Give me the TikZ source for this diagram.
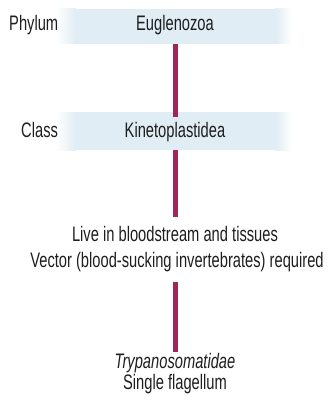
\documentclass[tikz,border=0pt]{standalone}
\usepackage{fontspec}
\setmainfont{Liberation Sans}[FakeStretch=0.70]
\definecolor{bandblue}{RGB}{224,237,244}
\definecolor{barred}{RGB}{158,38,88}
\definecolor{txt}{RGB}{30,30,30}
\tikzset{
  lbl/.style={inner sep=0pt, font=\fontsize{21}{24}\selectfont, text=txt, anchor=base},
  bar/.style={draw=barred, line width=5pt},
  band/.style={fill=bandblue, draw=none}
}
\begin{document}
\begin{tikzpicture}[x=1pt,y=-1pt]
\useasboundingbox (0,0) rectangle (328,412);
% bands
\shade[left color=white, right color=bandblue] (56,9) rectangle (76,44);
\fill[band] (75,9) rectangle (276,44);
\shade[left color=bandblue, right color=white] (275,9) rectangle (292,44);
\shade[left color=white, right color=bandblue] (56,112) rectangle (76,150);
\fill[band] (75,112) rectangle (276,150);
\shade[left color=bandblue, right color=white] (275,112) rectangle (292,150);
% texts
\node[lbl, anchor=base west] (phy) at (9,31) {Phylum};
\node[lbl] (eug) at (175,31) {Euglenozoa};
\node[lbl, anchor=base west] (cls) at (21,137) {Class};
\node[lbl] (kin) at (175,137) {Kinetoplastidea};
\node[lbl] (live) at (175,241) {Live in bloodstream and tissues};
\node[lbl] (vec) at (177,267) {Vector (blood-sucking invertebrates) required};
\node[lbl] (try) at (175,368) {\itshape Trypanosomatidae};
\node[lbl] (sfl) at (175,389) {Single flagellum};
% bars
\coordinate (b1a) at (175,44);
\coordinate (b1b) at (175,117);
\coordinate (b2a) at (175,150);
\coordinate (b2b) at (175,217);
\coordinate (b3a) at (175,282);
\coordinate (b3b) at (175,352);
\draw[bar] (b1a) -- (b1b);
\draw[bar] (b2a) -- (b2b);
\draw[bar] (b3a) -- (b3b);
\end{tikzpicture}
\end{document}
